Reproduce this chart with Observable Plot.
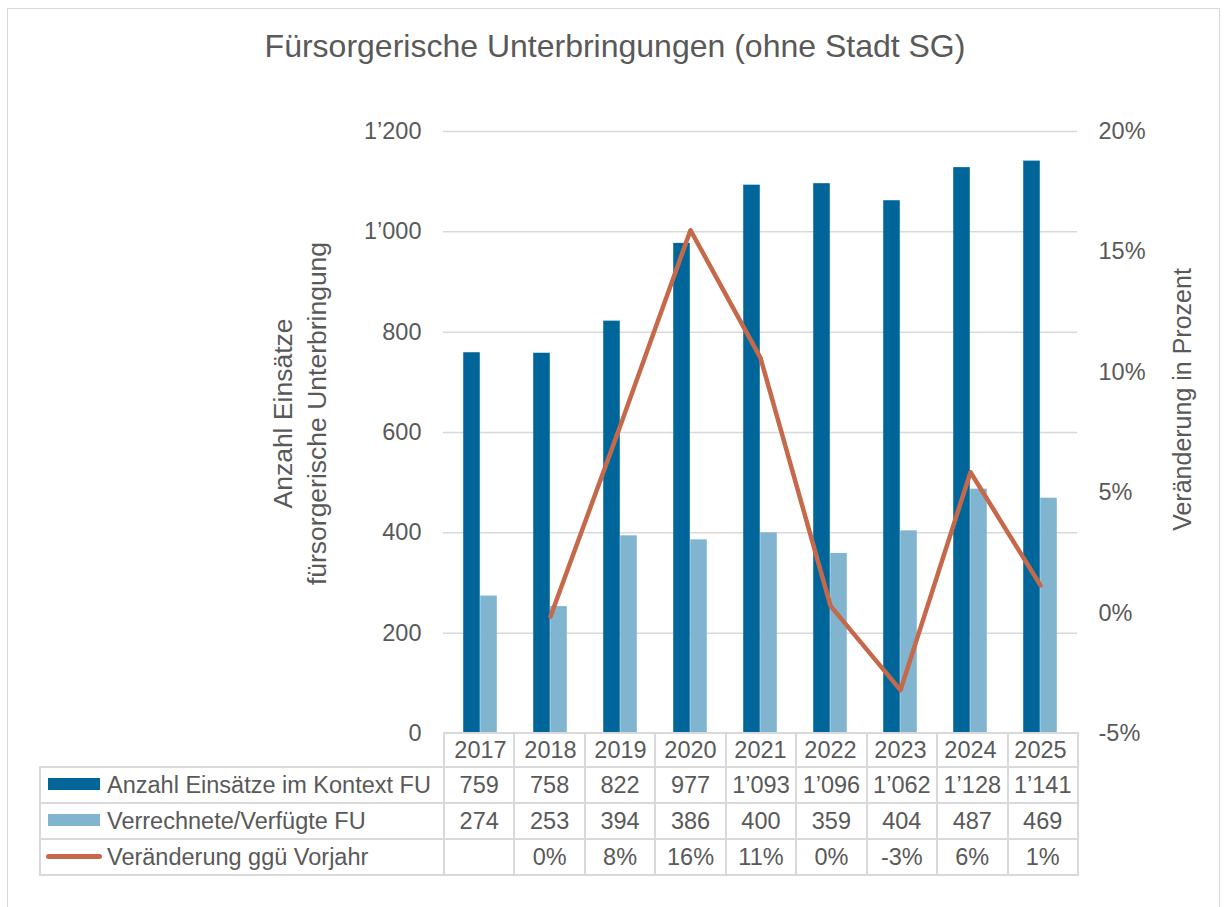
<!DOCTYPE html>
<html>
<head>
<meta charset="utf-8">
<script src="https://cdn.jsdelivr.net/npm/d3@7"></script>
<script src="https://cdn.jsdelivr.net/npm/@observablehq/plot@0.6"></script>
<style>
  html, body { margin: 0; padding: 0; background: #ffffff; }
  #wrap { position: relative; width: 1224px; height: 907px; overflow: hidden; font-family: "Liberation Sans", Arial, sans-serif; color: #595959; }
  #frame { position: absolute; left: 7px; top: 8px; width: 1213px; height: 960px; border: 1.5px solid #d9d9d9; box-sizing: border-box; }
  #title { position: absolute; left: 0; top: 31px; width: 1230px; text-align: center; font-size: 32px; line-height: 31.5px; white-space: nowrap; }
  #chart { position: absolute; left: 0; top: 0; }
  #tbl { position: absolute; left: 39px; top: 732px; border-collapse: collapse; table-layout: fixed; font-size: 23.5px; color: #595959; }
  #tbl td { border: 2px solid #d9d9d9; padding: 0; text-align: center; vertical-align: middle; white-space: nowrap; overflow: hidden; }
  #tbl tr.head td { height: 32px; }
  #tbl tr.data td { height: 34px; }
  #tbl td.corner { border-top: none; border-left: none; }
  #tbl td.lab { text-align: left; padding-left: 7px; }
  .sw { display: inline-block; vertical-align: middle; margin-right: 7px; position: relative; top: -2px; }
</style>
</head>
<body>
<div id="wrap">
  <div id="frame"></div>
  <div id="title"></div>
  <div id="chart"></div>
  <table id="tbl"></table>
</div>
<script>
// ---- data ----
const titleText = "Fürsorgerische Unterbringungen (ohne Stadt SG)";
const years = ["2017", "2018", "2019", "2020", "2021", "2022", "2023", "2024", "2025"];
const einsaetze = [759, 758, 822, 977, 1093, 1096, 1062, 1128, 1141];
const verfuegt = [274, 253, 394, 386, 400, 359, 404, 487, 469];
const veraenderung = [null, -0.14, 7.8, 15.9, 10.6, 0.3, -3.2, 5.85, 1.15]; // percent
const seriesNames = ["Anzahl Einsätze im Kontext FU", "Verrechnete/Verfügte FU", "Veränderung ggü Vorjahr"];
const countTicks = [0, 200, 400, 600, 800, 1000, 1200];
const pctTicks = [-5, 0, 5, 10, 15, 20];
const leftTitle = "Anzahl Einsätze\nfürsorgerische Unterbringung";
const rightTitle = "Veränderung in Prozent";

// ---- styles ----
const DARK = "#00669a", LIGHT = "#80b4cf", ORANGE = "#c6694a", GRID = "#d9d9d9";
const FONT = "'Liberation Sans', Arial, sans-serif";
const W = 1224, H = 907, mL = 443, mR = 147, mT = 131, mB = 174;
const bw = (W - mL - mR) / years.length;
const barW = 17;

const countDomain = [0, 1200];
const pctDomain = [-5, 20];
const k = (countDomain[1] - countDomain[0]) / (pctDomain[1] - pctDomain[0]);
const toCount = p => countDomain[0] + (p - pctDomain[0]) * k;
const fromCount = c => Math.round(pctDomain[0] + (c - countDomain[0]) / k);

const loc = d3.formatLocale({decimal: ".", thousands: "\u2019", grouping: [3], currency: ["", ""]});
const fmtCount = loc.format(",d");
const fmtPct = v => v == null ? "" : String(Math.round(v) + 0).replace("-0", "0") + "%";

const rows = years.map((y, i) => ({year: y, einsaetze: einsaetze[i], verfuegt: verfuegt[i], pct: veraenderung[i]}));

document.getElementById("title").textContent = titleText;

const chart = Plot.plot({
  width: W, height: H,
  marginLeft: mL, marginRight: mR, marginTop: mT, marginBottom: mB,
  style: {fontFamily: FONT, fontSize: "23.5px", color: "#595959", background: "transparent", overflow: "visible"},
  x: {type: "band", domain: years, padding: 0, label: null},
  y: {domain: countDomain, label: null},
  marks: [
    Plot.gridY(countTicks.filter(v => v > 0), {stroke: GRID, strokeOpacity: 1, strokeWidth: 1.5}),
    Plot.barY(rows, {x: "year", y: "einsaetze", fill: DARK, insetLeft: bw / 2 - barW, insetRight: bw / 2}),
    Plot.barY(rows, {x: "year", y: "verfuegt", fill: LIGHT, insetLeft: bw / 2, insetRight: bw / 2 - barW}),
    Plot.line(rows.filter(d => d.pct != null), {x: "year", y: d => toCount(d.pct), stroke: ORANGE, strokeWidth: 4.5, strokeLinecap: "round", strokeLinejoin: "round"}),
    Plot.axisY({ticks: countTicks, tickFormat: fmtCount, tickSize: 0, tickPadding: 22, label: null}),
    Plot.axisY({anchor: "right", ticks: pctTicks.map(toCount), tickFormat: c => fromCount(c) + "%", tickSize: 0, tickPadding: 21, label: null}),
    Plot.axisX({tickSize: 0, tickPadding: 8, label: null}),
    Plot.text([leftTitle], {frameAnchor: "left", textAnchor: "middle", lineAnchor: "middle", text: d => d, rotate: -90, dx: -145, dy: -19, lineHeight: 1.28, fontSize: 26.5}),
    Plot.text([rightTitle], {frameAnchor: "right", textAnchor: "middle", lineAnchor: "middle", text: d => d, rotate: -90, dx: 105, dy: -33, fontSize: 25})
  ]
});
document.getElementById("chart").appendChild(chart);

// ---- data table (legend + values) ----
const tbl = d3.select("#tbl").style("width", (W - mR - 39 + 1) + "px");
const cg = tbl.append("colgroup");
cg.append("col").style("width", (mL - 39) + "px");
years.forEach(() => cg.append("col").style("width", bw + "px"));

const head = tbl.append("tr").attr("class", "head");
head.append("td").attr("class", "corner");
years.forEach(() => head.append("td"));

const tableRows = [
  {name: seriesNames[0], vals: einsaetze.map(fmtCount), sw: "bar", color: DARK},
  {name: seriesNames[1], vals: verfuegt.map(fmtCount), sw: "bar", color: LIGHT},
  {name: seriesNames[2], vals: veraenderung.map(fmtPct), sw: "line", color: ORANGE}
];
tableRows.forEach(r => {
  const tr = tbl.append("tr").attr("class", "data");
  const lab = tr.append("td").attr("class", "lab");
  if (r.sw === "bar") {
    lab.append("span").attr("class", "sw")
      .style("width", "52px").style("height", "12px").style("background", r.color);
  } else {
    lab.append("span").attr("class", "sw")
      .style("width", "56px").style("height", "5px").style("border-radius", "3px")
      .style("background", r.color).style("margin-left", "-2px").style("margin-right", "5px");
  }
  lab.append("span").text(r.name);
  r.vals.forEach(v => tr.append("td").text(v));
});
</script>
</body>
</html>
